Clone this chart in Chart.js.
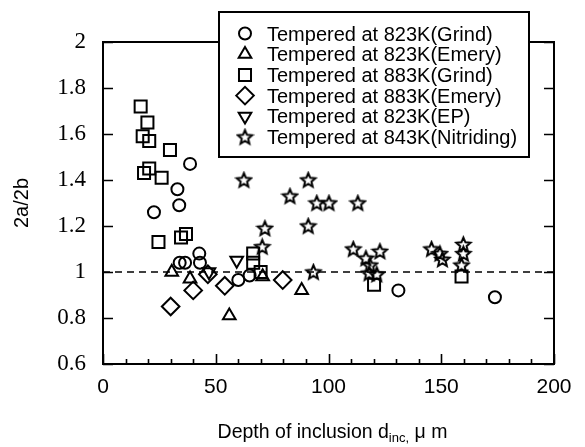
<!DOCTYPE html>
<html lang="en">
<head>
<meta charset="UTF-8">
<title>2a/2b vs depth of inclusion</title>
<script src="https://cdn.jsdelivr.net/npm/chart.js"></script>
<style>
  html, body { margin: 0; padding: 0; background: #fff; }
  #wrap { width: 585px; height: 447px; }
</style>
</head>
<body>
<div id="wrap"><canvas id="ratioChart" width="585" height="447"></canvas></div>
<script>
// values: x = depth of inclusion (um), y = 2a/2b
const grind823Depth = [38.6, 33, 33.8, 22.6, 42.7, 43, 34, 36.4, 60, 65, 131, 173.8];
const grind823Ratio = [1.47, 1.36, 1.29, 1.26, 1.08, 1.04, 1.04, 1.04, 0.965, 0.985, 0.92, 0.89];

const emery823Depth = [30.5, 38.6, 56, 70.8, 88.1];
const emery823Ratio = [1.0, 0.97, 0.81, 0.98, 0.92];

const grind883Depth = [16.7, 19.7, 17.6, 20.5, 29.7, 20.5, 18.2, 26, 24.6, 34.6, 36.8, 66.6, 66.6, 69.9, 120.2, 159];
const grind883Ratio = [1.72, 1.65, 1.59, 1.57, 1.53, 1.45, 1.43, 1.41, 1.13, 1.15, 1.165, 1.08, 1.04, 1.0, 0.945, 0.98];

const emery883Depth = [30, 40, 46.5, 54, 79.7];
const emery883Ratio = [0.85, 0.92, 0.99, 0.94, 0.965];

const ep823Depth = [47, 59.3];
const ep823Ratio = [1.0, 1.05];

const nitrDepth = [62.5, 91, 82.9, 94.8, 100.2, 113, 91, 71.8, 70.6, 111, 93.3, 116.6, 122.8, 118.4, 118, 121.4, 145.7, 149.4, 150.5, 159.8, 159.8, 159];
const nitrRatio = [1.40, 1.40, 1.33, 1.30, 1.30, 1.30, 1.20, 1.19, 1.11, 1.10, 1.0, 1.06, 1.09, 1.03, 0.995, 0.99, 1.10, 1.08, 1.055, 1.12, 1.08, 1.03];

const refLineX = [0, 200];
const refLineY = [1, 1];

const xTicks = [0, 50, 100, 150, 200];
const yTicks = [0.6, 0.8, 1, 1.2, 1.4, 1.6, 1.8, 2];
const xMinorStep = 10;

const legendLabels = [
    'Tempered at 823K(Grind)',
    'Tempered at 823K(Emery)',
    'Tempered at 883K(Grind)',
    'Tempered at 883K(Emery)',
    'Tempered at 823K(EP)',
    'Tempered at 843K(Nitriding)'
];

const pts = (xs, ys) => xs.map((x, i) => ({ x: x, y: ys[i] }));

// five pointed open star, Chart.js has none of its own
function makeStar(size, lw) {
    const c = document.createElement('canvas');
    c.width = size;
    c.height = size;
    const g = c.getContext('2d');
    const cx = size / 2, cy = size / 2 + 0.6;
    const R = size / 2 - lw, r = R * 0.45;
    g.beginPath();
    for (let i = 0; i < 10; i++) {
        const a = -Math.PI / 2 + i * Math.PI / 5;
        const rr = i % 2 ? r : R;
        g.lineTo(cx + rr * Math.cos(a), cy + rr * Math.sin(a));
    }
    g.closePath();
    g.lineWidth = lw;
    g.strokeStyle = '#000';
    g.stroke();
    return c;
}
const starImg = makeStar(19, 2);

const markers = [
    { pointStyle: 'circle', radius: 6, rotation: 0 },
    { pointStyle: 'triangle', radius: 7.3, rotation: 0 },
    { pointStyle: 'rect', radius: 8.5, rotation: 0 },
    { pointStyle: 'rectRot', radius: 8.8, rotation: 0 },
    { pointStyle: 'triangle', radius: 7.3, rotation: 180 },
    { pointStyle: starImg, radius: 9.5, rotation: 0 }
];
const markerLine = 2;

const seriesData = [
    pts(grind823Depth, grind823Ratio),
    pts(emery823Depth, emery823Ratio),
    pts(grind883Depth, grind883Ratio),
    pts(emery883Depth, emery883Ratio),
    pts(ep823Depth, ep823Ratio),
    pts(nitrDepth, nitrRatio)
];

const datasets = seriesData.map((d, i) => ({
    type: 'scatter',
    label: legendLabels[i],
    data: d,
    pointStyle: markers[i].pointStyle,
    pointRadius: markers[i].radius,
    pointRotation: markers[i].rotation,
    pointBorderWidth: markerLine,
    borderColor: '#000',
    backgroundColor: 'rgba(0,0,0,0)'
}));

datasets.unshift({
    type: 'line',
    label: 'ref',
    data: pts(refLineX, refLineY),
    borderColor: '#000',
    borderWidth: 1.5,
    borderDash: [7, 5],
    pointRadius: 0,
    fill: false
});

// frame with inward ticks, legend box and x title
const framePlugin = {
    id: 'frame',
    afterDraw(chart) {
        const ctx = chart.ctx;
        const a = chart.chartArea;
        const xs = chart.scales.x, ys = chart.scales.y;
        ctx.save();
        ctx.strokeStyle = '#000';
        ctx.lineWidth = 2;
        ctx.strokeRect(a.left, a.top, a.right - a.left, a.bottom - a.top);

        ctx.lineWidth = 1.6;
        ctx.beginPath();
        yTicks.forEach(v => {
            const y = Math.round(ys.getPixelForValue(v)) + 0.5;
            ctx.moveTo(a.left, y); ctx.lineTo(a.left + 10, y);
            ctx.moveTo(a.right, y); ctx.lineTo(a.right - 10, y);
        });
        for (let v = 0; v <= 200; v += xMinorStep) {
            const x = Math.round(xs.getPixelForValue(v)) + 0.5;
            const len = v % 50 === 0 ? 10 : 5;
            ctx.moveTo(x, a.bottom); ctx.lineTo(x, a.bottom - len);
        }
        ctx.stroke();

        // legend
        const bx = 219, by = 12, bw = 310, bh = 145;
        ctx.fillStyle = '#fff';
        ctx.fillRect(bx, by, bw, bh);
        ctx.lineWidth = 2;
        ctx.strokeRect(bx, by, bw, bh);
        ctx.font = '20px "Liberation Sans", Arial, sans-serif';
        ctx.textBaseline = 'alphabetic';
        ctx.textAlign = 'left';
        legendLabels.forEach((t, i) => {
            const cy = 33.5 + i * 20.7;
            ctx.fillStyle = 'rgba(0,0,0,0)';
            ctx.strokeStyle = '#000';
            ctx.lineWidth = markerLine;
            Chart.helpers.drawPoint(ctx, {
                pointStyle: markers[i].pointStyle,
                radius: markers[i].radius,
                rotation: markers[i].rotation,
                borderWidth: markerLine
            }, 245, cy);
            ctx.fillStyle = '#000';
            ctx.fillText(t, 267, cy + 7);
        });

        // x title with subscript
        const big = '19.5px "Liberation Sans", Arial, sans-serif';
        const small = '13px "Liberation Sans", Arial, sans-serif';
        const p1 = 'Depth of inclusion d', p2 = 'inc,', p3 = ' \u03bc m';
        ctx.font = big; const w1 = ctx.measureText(p1).width, w3 = ctx.measureText(p3).width;
        ctx.font = small; const w2 = ctx.measureText(p2).width;
        let x = (a.left + a.right) / 2 + 4 - (w1 + w2 + w3) / 2;
        const base = 438;
        ctx.fillStyle = '#000';
        ctx.font = big; ctx.fillText(p1, x, base); x += w1;
        ctx.font = small; ctx.fillText(p2, x, base + 4); x += w2;
        ctx.font = big; ctx.fillText(p3, x, base);
        ctx.restore();
    }
};

new Chart(document.getElementById('ratioChart'), {
    data: { datasets: datasets },
    options: {
        responsive: false,
        animation: false,
        layout: { padding: { top: 42, right: 31, left: 0, bottom: 0 } },
        plugins: { legend: { display: false }, tooltip: { enabled: false } },
        scales: {
            x: {
                type: 'linear',
                min: 0,
                max: 200,
                grid: { display: false },
                border: { display: false },
                afterBuildTicks: s => { s.ticks = xTicks.map(v => ({ value: v })); },
                afterFit: s => { s.height = 83; },
                ticks: {
                    color: '#000',
                    padding: 3,
                    maxRotation: 0,
                    font: { family: '"Liberation Sans", Arial, sans-serif', size: 21 }
                }
            },
            y: {
                type: 'linear',
                min: 0.6,
                max: 2,
                grid: { display: false },
                border: { display: false },
                afterBuildTicks: s => { s.ticks = yTicks.map(v => ({ value: v })); },
                afterFit: s => { s.width = 103; },
                ticks: {
                    color: '#000',
                    padding: 9,
                    font: { family: '"Liberation Serif", "Times New Roman", serif', size: 23 },
                    callback: v => String(Number(v.toFixed(1)))
                },
                title: {
                    display: true,
                    text: '2a/2b',
                    color: '#000',
                    padding: { top: 10, bottom: 0 },
                    font: { family: '"Liberation Sans", Arial, sans-serif', size: 20 }
                }
            }
        }
    },
    plugins: [framePlugin]
});
</script>
</body>
</html>
